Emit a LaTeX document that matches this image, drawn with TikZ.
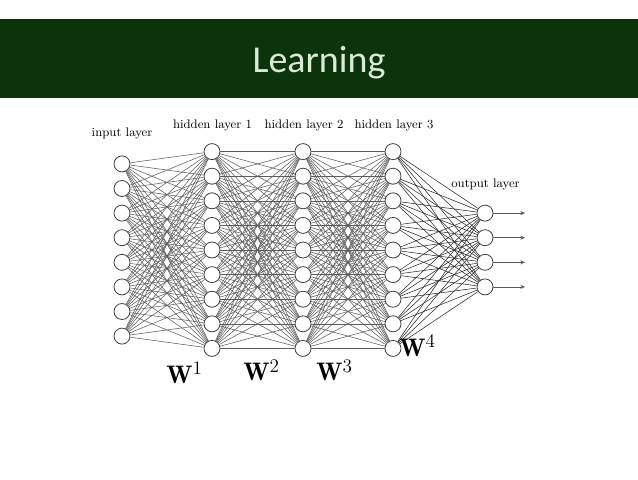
\documentclass[tikz,border=0pt]{standalone}
\usepackage{fontspec}
\newfontfamily\titlefont{Carlito}
\usepackage{tikz}
\usetikzlibrary{arrows.meta,positioning}
\definecolor{bandc}{HTML}{0C340B}
\definecolor{titlec}{HTML}{DAEAD4}
\definecolor{edgec}{HTML}{5C5C5C}
\tikzset{
  nd/.style={circle,draw=black!75,fill=white,minimum size=12pt,inner sep=0pt,line width=0.6pt},
  ln/.style={edgec,line width=0.4pt},
  lb/.style={font=\fontsize{9.3}{11}\selectfont,anchor=base},
  wt/.style={font=\fontsize{19}{22}\selectfont,anchor=base}
}
\begin{document}
\begin{tikzpicture}[x=0.75pt,y=-0.75pt]
\useasboundingbox (0,0) rectangle (638,479);
\fill[bandc] (0,19) rectangle (638,98);
\node[anchor=base,text=titlec,font=\titlefont\fontsize{28.5}{34}\selectfont] (ttl) at (319,72) {Learning};
% layers
\foreach \k in {1,...,8} \node[nd] (i\k) at (122,{250+(\k-4.5)*24.6}) {};
\foreach \k in {1,...,9} {
  \node[nd] (a\k) at (212,{250+(\k-5)*24.6}) {};
  \node[nd] (b\k) at (303,{250+(\k-5)*24.6}) {};
  \node[nd] (c\k) at (393,{250+(\k-5)*24.6}) {};
}
\foreach \k in {1,...,4} \node[nd] (o\k) at (485,{250+(\k-2.5)*24.6}) {};
% connections
\foreach \p in {1,...,8} \foreach \q in {1,...,9} \draw[ln] (i\p) -- (a\q);
\foreach \p in {1,...,9} \foreach \q in {1,...,9} {
  \draw[ln] (a\p) -- (b\q);
  \draw[ln] (b\p) -- (c\q);
}
\foreach \p in {1,...,9} \foreach \q in {1,...,4} \draw[ln,black!85] (c\p) -- (o\q);
\foreach \k in {1,...,4} {
  \coordinate (e\k) at ([xshift=30pt]o\k.center);
  \draw[ln,-{Stealth[length=3.5pt,width=3pt]}] (o\k) -- (e\k);
}
% labels
\node[lb] (lin) at (122,136) {input layer};
\node[lb] (lh1) at (212.5,128) {hidden layer 1};
\node[lb] (lh2) at (304,128) {hidden layer 2};
\node[lb] (lh3) at (394,128) {hidden layer 3};
\node[lb] (lout) at (485.5,187) {output layer};
\node[wt] (w1) at (184.5,383) {$\mathbf{W}^1$};
\node[wt] (w2) at (261.5,380.5) {$\mathbf{W}^2$};
\node[wt] (w3) at (334.5,380.5) {$\mathbf{W}^3$};
\node[wt] (w4) at (417.5,356) {$\mathbf{W}^4$};
\end{tikzpicture}
\end{document}
